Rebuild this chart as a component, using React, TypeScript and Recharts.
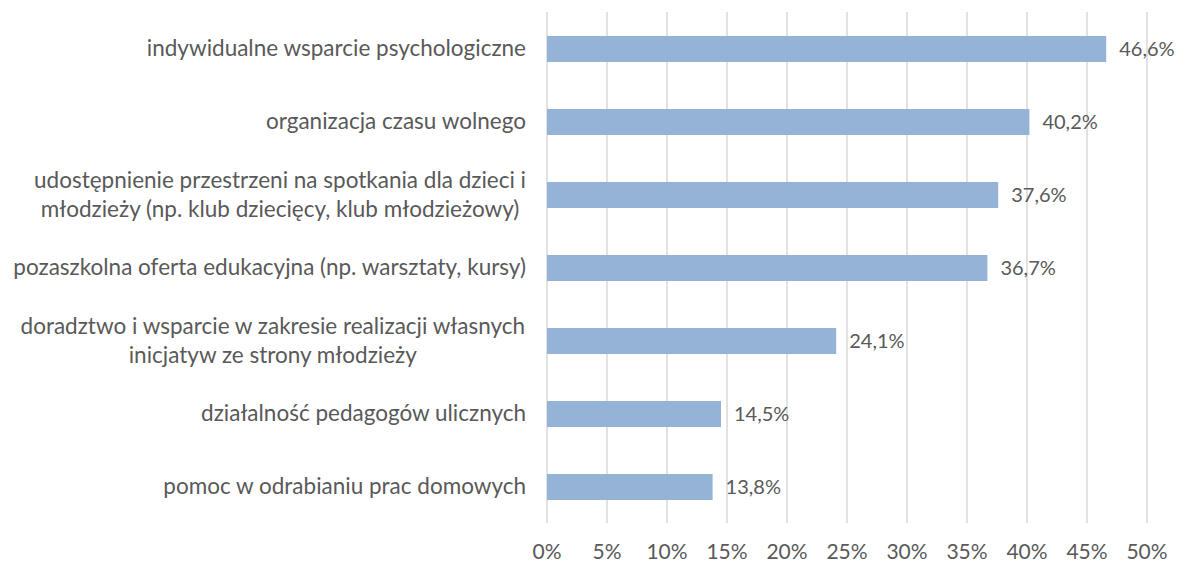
import * as React from "react";
import { BarChart, Bar, XAxis, YAxis, CartesianGrid, LabelList } from "recharts";

const categories = [
  "indywidualne wsparcie psychologiczne",
  "organizacja czasu wolnego",
  "udostępnienie przestrzeni na spotkania dla dzieci i\nmłodzieży (np. klub dziecięcy, klub młodzieżowy)",
  "pozaszkolna oferta edukacyjna (np. warsztaty, kursy)",
  "doradztwo i wsparcie w zakresie realizacji własnych\ninicjatyw ze strony młodzieży",
  "działalność pedagogów ulicznych",
  "pomoc w odrabianiu prac domowych",
];
const values = [46.6, 40.2, 37.6, 36.7, 24.1, 14.5, 13.8];
const xTicks = [0, 5, 10, 15, 20, 25, 30, 35, 40, 45, 50];

const data = categories.map((name, i) => ({ name, value: values[i] }));

const FONT = "Lato, 'Open Sans', sans-serif";
const CAT_FS = 22.5;
const TICK_FS = 21;
const LABEL_FS = 20;
const TEXT = "#595959";

let ctx: CanvasRenderingContext2D | null = null;
const measure = (s: string) => {
  if (!ctx) ctx = document.createElement("canvas").getContext("2d");
  if (!ctx) return s.length * 10;
  ctx.font = `${CAT_FS}px Lato`;
  return ctx.measureText(s).width;
};

// multi-line labels are centred on each other, the block is right aligned
const CategoryTick = (props: any) => {
  const { x, y, payload } = props;
  const lines: string[] = String(payload.value).split("\n");
  const multi = lines.length > 1;
  const w = Math.max(...lines.map(measure));
  const right = x - 13;
  const lh = 29;
  const startY = y - ((lines.length - 1) * lh) / 2;
  return (
    <text fill={TEXT} fontSize={CAT_FS} fontFamily={FONT} textAnchor={multi ? "middle" : "end"}>
      {lines.map((l, i) => (
        <tspan key={i} x={multi ? right - w / 2 : right} y={startY + i * lh} dy="0.35em">
          {l}
        </tspan>
      ))}
    </text>
  );
};

export default function App() {
  return (
    <div style={{ position: "absolute", left: 0, top: 0, background: "#fff" }}>
      <BarChart
        width={1185}
        height={562}
        data={data}
        layout="vertical"
        margin={{ top: 12, right: 38, left: 0, bottom: 0 }}
      >
        <CartesianGrid horizontal={false} stroke="#D9D9D9" strokeWidth={1.5} />
        <XAxis
          type="number"
          domain={[0, 50]}
          ticks={xTicks}
          tickFormatter={(v) => `${v}%`}
          axisLine={false}
          tickLine={false}
          height={39}
          tickMargin={15}
          tick={{ fill: TEXT, fontSize: TICK_FS, fontFamily: FONT }}
        />
        <YAxis
          type="category"
          dataKey="name"
          width={547}
          axisLine={false}
          tickLine={false}
          tick={<CategoryTick />}
          interval={0}
        />
        <Bar dataKey="value" fill="#95B3D7" barSize={26} isAnimationActive={false}>
          <LabelList
            dataKey="value"
            position="right"
            offset={13}
            formatter={(v: any) => `${Number(v).toFixed(1).replace(".", ",")}%`}
            fill={TEXT}
            fontSize={LABEL_FS}
            fontFamily={FONT}
          />
        </Bar>
      </BarChart>
    </div>
  );
}
